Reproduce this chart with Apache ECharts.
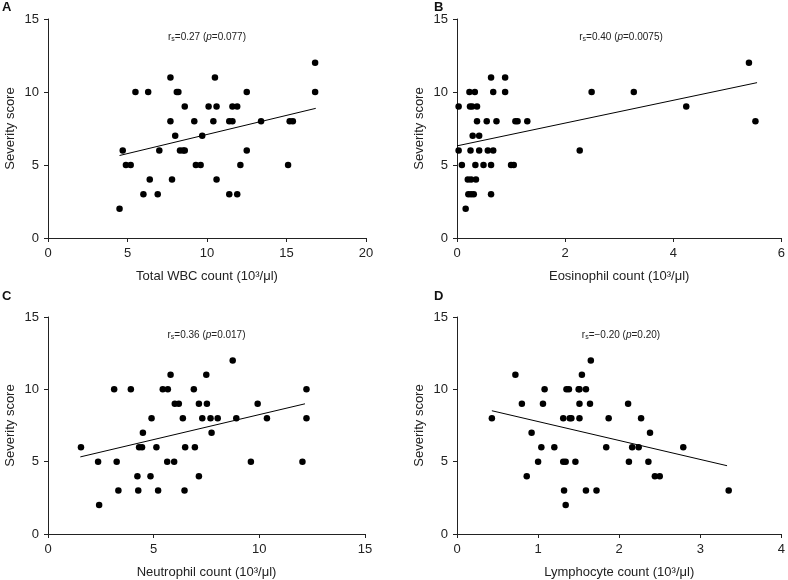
<!DOCTYPE html>
<html><head><meta charset="utf-8">
<script src="https://cdn.jsdelivr.net/npm/echarts@6/dist/echarts.min.js"></script>
<style>html,body{margin:0;padding:0;background:#fff}#c{width:788px;height:580px}</style>
</head><body><div id="c"></div>
<script>
// Panel A: Total WBC count
const wbcX = [4.5,4.7,4.9,5.2,5.5,6.0,6.3,6.4,6.9,7.0,7.7,7.7,7.8,8.0,8.1,8.2,8.3,8.5,8.6,8.6,9.2,9.3,9.6,9.7,10.1,10.4,10.5,10.6,10.6,11.4,11.4,11.6,11.6,11.9,11.9,12.1,12.5,12.5,13.4,15.1,15.2,15.4,16.8,16.8];
const wbcY = [2,6,5,5,10,3,10,4,3,6,11,8,4,7,10,10,6,6,6,9,8,5,5,7,9,8,11,9,4,8,3,9,8,9,3,5,10,6,8,5,8,8,12,10];
const wbcFit = [[4.5,5.65],[16.84,8.88]];
// Panel B: Eosinophil count
const eosX = [0.03,0.03,0.09,0.16,0.20,0.26,0.35,0.23,0.21,0.26,0.31,0.25,0.24,0.28,0.37,0.29,0.33,0.34,0.37,0.41,0.41,0.49,0.55,0.57,0.63,0.63,0.63,0.67,0.67,0.73,0.89,0.89,1.00,1.05,1.08,1.12,1.30,2.27,2.49,3.27,4.24,5.40,5.52];
const eosY = [9,6,5,2,4,4,4,10,3,3,3,6,9,9,9,7,10,5,8,7,6,5,8,6,11,5,3,10,6,8,11,10,5,5,8,8,8,6,10,10,9,12,8];
const eosFit = [[0,6.31],[5.55,10.64]];
// Panel C: Neutrophil count
const neuX = [1.56,2.37,2.42,3.13,3.25,3.33,3.92,4.23,4.27,4.31,4.45,4.49,4.85,4.90,5.13,5.21,5.43,5.64,5.67,5.80,5.97,6.00,6.19,6.38,6.46,6.49,6.90,6.95,7.14,7.14,7.30,7.49,7.52,7.69,7.74,8.03,8.74,8.91,9.60,9.92,10.36,12.04,12.23,12.23];
const neuY = [6,5,2,10,5,3,10,4,3,6,6,7,4,8,6,3,10,5,10,11,5,9,9,8,3,6,10,6,9,4,8,11,9,8,7,8,12,8,5,9,8,5,10,8];
const neuFit = [[1.53,5.33],[12.16,9.0]];
// Panel D: Lymphocyte count
const lymX = [0.43,0.72,0.80,0.86,0.92,1.00,1.04,1.06,1.08,1.20,1.31,1.31,1.32,1.34,1.34,1.35,1.38,1.39,1.41,1.46,1.50,1.51,1.51,1.51,1.54,1.59,1.59,1.64,1.65,1.72,1.84,1.87,2.11,2.12,2.16,2.24,2.27,2.36,2.38,2.44,2.50,2.79,3.35];
const lymY = [8,11,9,4,7,5,6,9,10,6,8,5,3,5,2,10,10,8,8,5,10,10,9,8,11,10,3,9,12,3,6,8,9,5,6,6,8,5,7,4,4,6,3];
const lymFit = [[0.43,8.52],[3.33,4.72]];

const panelLetters = ['A','B','C','D'];
const xNames = ['Total WBC count (10³/μl)','Eosinophil count (10³/μl)','Neutrophil count (10³/μl)','Lymphocyte count (10³/μl)'];
const yName = 'Severity score';
const xMax = [20,6,15,4];
const xStep = [5,2,5,1];
const rsText = ['0.27','0.40','0.36','\u22120.20'];
const pText = ['0.077','0.0075','0.017','0.20'];

const pts = [[wbcX,wbcY],[eosX,eosY],[neuX,neuY],[lymX,lymY]];
const fits = [wbcFit,eosFit,neuFit,lymFit];

const FONT = 'Liberation Sans, Arial, sans-serif';
const grids = [
  {left:48, top:19, width:318, height:219},
  {left:457, top:19, width:328, height:219},
  {left:48, top:317, width:317, height:219},
  {left:457, top:317, width:328, height:219}
];
const axisCommon = {
  axisLine:{show:true,lineStyle:{color:'#222',width:1}},
  axisTick:{show:true,inside:false,length:4,lineStyle:{color:'#222'}},
  splitLine:{show:false},
  axisLabel:{color:'#222',fontSize:13,fontFamily:FONT},
  nameTextStyle:{color:'#222',fontSize:13,fontFamily:FONT}
};
const xAxes = grids.map((g,i)=>Object.assign({}, axisCommon, {
  type:'value', gridIndex:i, min:0, max:xMax[i], interval:xStep[i],
  name:xNames[i], nameLocation:'middle', nameGap:32,
  axisLabel:Object.assign({}, axisCommon.axisLabel, {margin:9})
}));
const yAxes = grids.map((g,i)=>Object.assign({}, axisCommon, {
  type:'value', gridIndex:i, min:0, max:15, interval:5,
  name:yName, nameLocation:'middle', nameGap:31,
  axisLabel:Object.assign({}, axisCommon.axisLabel, {margin:9})
}));
const series = [];
pts.forEach((p,i)=>{
  series.push({type:'scatter', xAxisIndex:i, yAxisIndex:i, symbolSize:6.5,
    itemStyle:{color:'#000',opacity:1}, data:p[0].map((x,k)=>[x,p[1][k]]), z:3});
  series.push({type:'line', xAxisIndex:i, yAxisIndex:i, showSymbol:false, symbol:'none',
    lineStyle:{color:'#000',width:1}, data:fits[i], z:2});
});
const graphics = [];
grids.forEach((g,i)=>{
  graphics.push({type:'text', x:(i%2===0?2:434), y:(i<2?1:290),
    style:{text:panelLetters[i], font:'bold 13px '+FONT, fill:'#111'}});
  graphics.push({type:'text', x:g.left+g.width/2, y:g.top+13,
    style:{text:'{n|r}{s|s}{n|='+rsText[i]+' (}{it|p}{n|='+pText[i]+')}', align:'center',
      rich:{n:{fontSize:10,fontFamily:FONT,fill:'#222'},
            s:{fontSize:7,fontFamily:FONT,fill:'#222',verticalAlign:'bottom',padding:[4,0,0,0]},
            it:{fontSize:10,fontFamily:FONT,fontStyle:'italic',fill:'#222'}}}});
});
const chart = echarts.init(document.getElementById('c'), null, {renderer:'canvas'});
chart.setOption({
  animation:false,
  backgroundColor:'#fff',
  grid:grids,
  xAxis:xAxes,
  yAxis:yAxes,
  series:series,
  graphic:graphics
});
</script></body></html>
